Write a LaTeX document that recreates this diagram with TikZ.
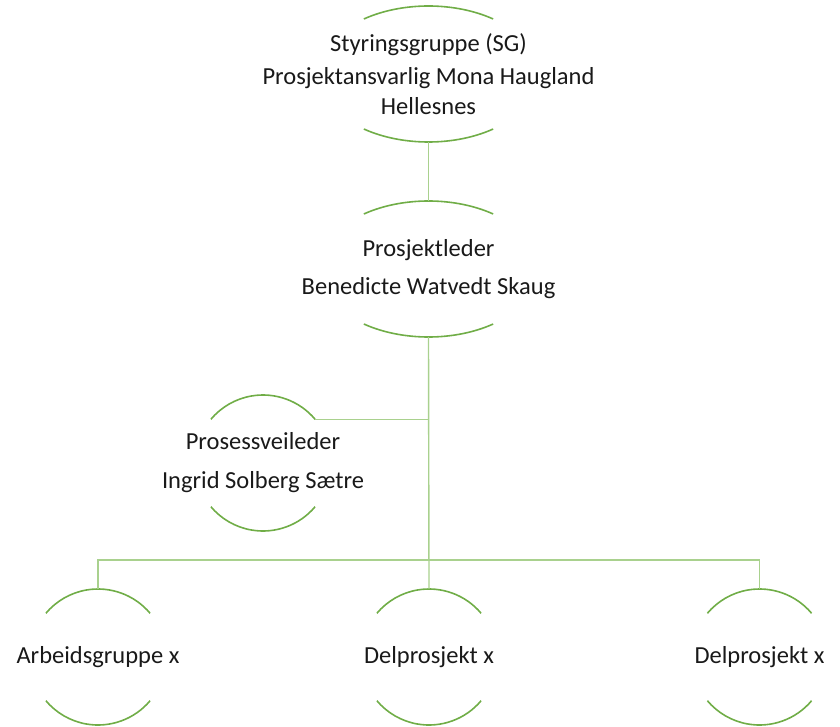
\documentclass[tikz,border=0pt]{standalone}
\usepackage{fontspec}
\setmainfont{Carlito}
\usetikzlibrary{calc}
\definecolor{arcgreen}{HTML}{70AD47}
\definecolor{linkgreen}{HTML}{A9D18E}
\newcommand{\orgarcs}[4]{%
	\coordinate (#1-ne) at ([shift={(#4:#2pt and #3pt)}]#1.center);
	\draw[orgarc] (#1-ne) arc[start angle=#4, end angle={180-#4}, x radius=#2pt, y radius=#3pt];
	\draw[orgarc] ([shift={(-#4:#2pt and #3pt)}]#1.center) arc[start angle=-#4, end angle={-180+#4}, x radius=#2pt, y radius=#3pt];
}
\begin{document}
\begin{tikzpicture}[x=1pt,y=-1pt]
	\tikzset{orgbox/.style={inner sep=0pt,minimum height=136pt,align=center,text=black!90,font=\fontsize{24.5}{30}\selectfont},
		orgarc/.style={arcgreen,line width=1.6pt},
		link/.style={linkgreen,line width=1.4pt}}
	\useasboundingbox (0,0) rectangle (840,727);
	\node[orgbox] (sg) at (428.5,74) {Styringsgruppe (SG)\\[3pt]Prosjektansvarlig Mona Haugland\\Hellesnes};
	\node[orgbox] (pl) at (428.5,269) {Prosjektleder\\[8pt]Benedicte Watvedt Skaug};
	\node[orgbox] (pv) at (263,463) {Prosessveileder\\[9pt]Ingrid Solberg Sætre};
	\node[orgbox] (ag) at (98,657) {Arbeidsgruppe x};
	\node[orgbox] (dp1) at (429,657) {Delprosjekt x};
	\node[orgbox] (dp2) at (759.5,657) {Delprosjekt x};
	\orgarcs{sg}{110}{68}{54}
	\orgarcs{pl}{110}{68}{54}
	\orgarcs{pv}{68}{68}{40}
	\orgarcs{ag}{68}{68}{40}
	\orgarcs{dp1}{68}{68}{40}
	\orgarcs{dp2}{68}{68}{40}
	\coordinate (bus) at (428.5,560);
	\draw[link] (sg.south) -- (pl.north);
	\draw[link] (pl.south) -- (dp1.north);
	\draw[link] (pv-ne) -- (pv-ne -| pl.south);
	\draw[link] (ag.north) |- (bus) -| (dp2.north);
\end{tikzpicture}
\end{document}
